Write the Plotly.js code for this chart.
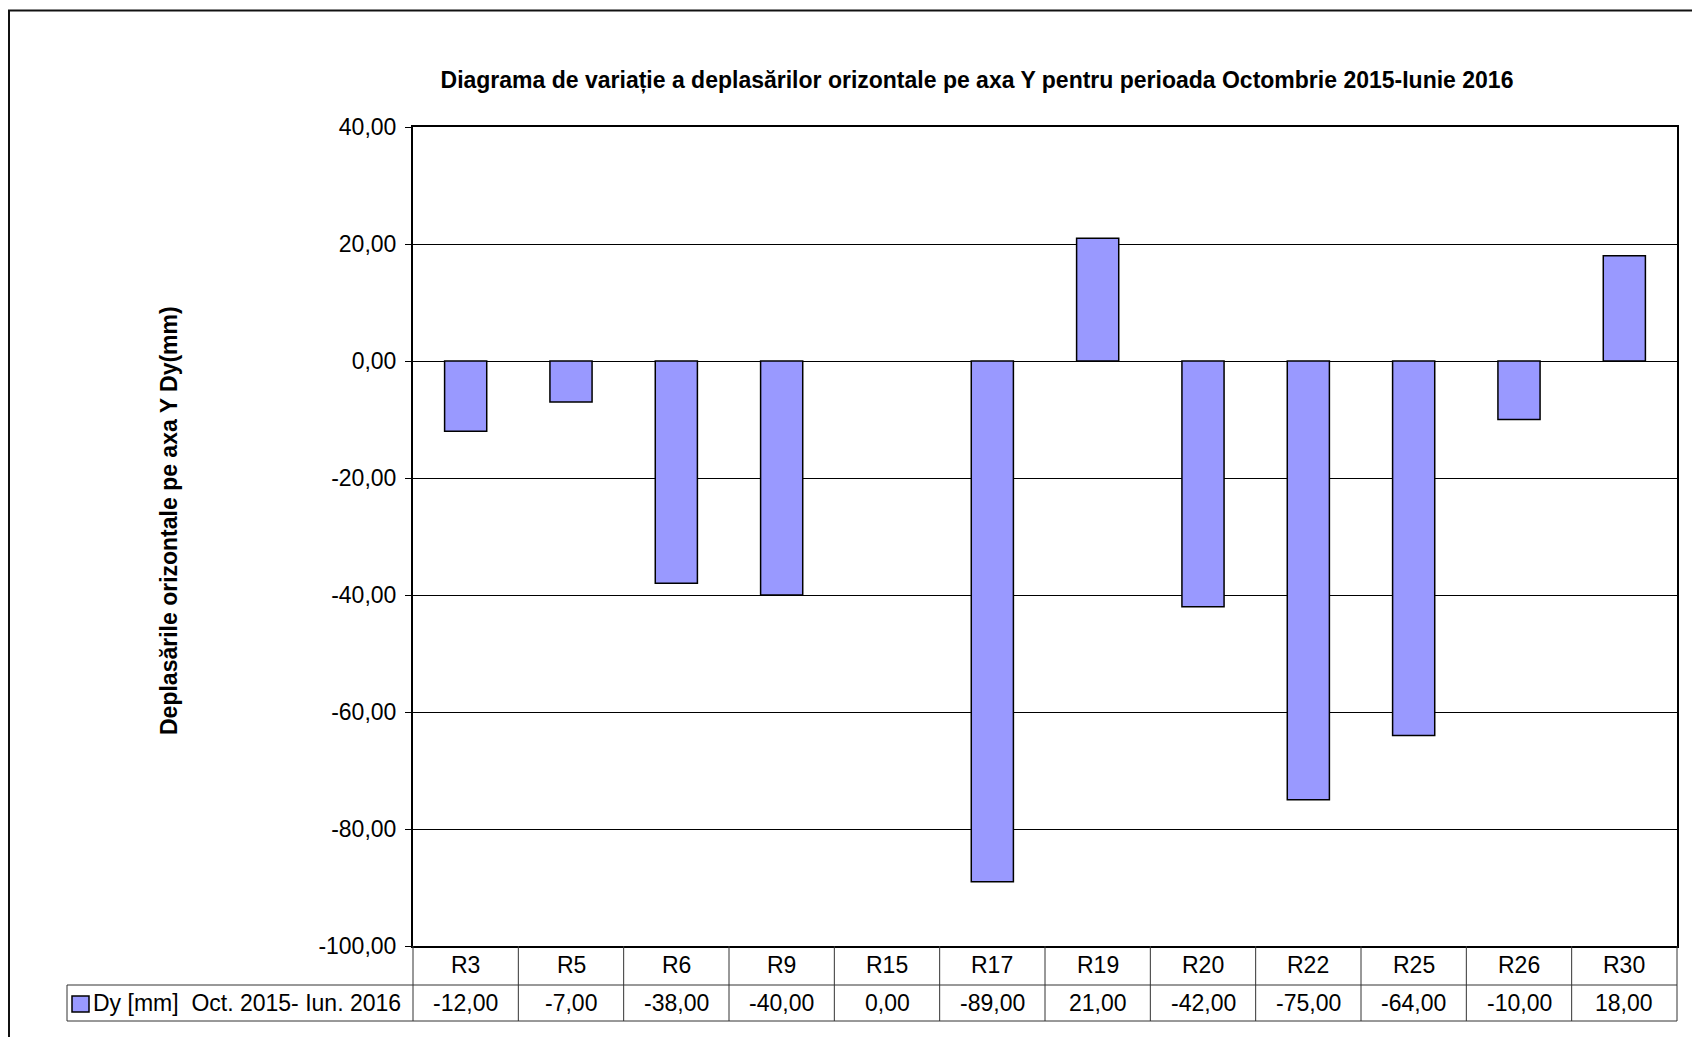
<!DOCTYPE html>
<html>
<head>
<meta charset="utf-8">
<script src="https://cdn.plot.ly/plotly-3.0.1.min.js"></script>
<style>
html,body{margin:0;padding:0;background:#fff;}
#chart{width:1692px;height:1037px;}
</style>
</head>
<body>
<div id="chart"></div>
<script>
// ---- data ----
const categories = ["R3","R5","R6","R9","R15","R17","R19","R20","R22","R25","R26","R30"];
const dyValues = [-12, -7, -38, -40, 0, -89, 21, -42, -75, -64, -10, 18];
const seriesName = "Dy [mm]  Oct. 2015- Iun. 2016";
const yTicks = [40, 20, 0, -20, -40, -60, -80, -100];
const chartTitle = "Diagrama de variație a deplasărilor orizontale pe axa Y pentru perioada Octombrie 2015-Iunie 2016";
const yTitle = "Deplasările orizontale pe axa Y Dy(mm)";

// ---- layout geometry (pixels) ----
const W = 1692, H = 1037;
const L = 413, R = 1677, T = 127, B = 946;
const ROW1 = 985, ROW2 = 1021, LEGL = 67;
const px = v => (v - L) / (R - L);
const py = v => (B - v) / (B - T);
const fmt = v => v.toFixed(2).replace('.', ',');
const FONT = "Liberation Sans, Arial, sans-serif";
const FS = 23;
const lineC = "#000";

const shapes = [];
const annotations = [];

// table horizontal lines
shapes.push({type:'line', xref:'paper', yref:'paper', x0:px(L), x1:px(R), y0:py(ROW1), y1:py(ROW1), line:{color:'#333', width:1}});
shapes.push({type:'line', xref:'paper', yref:'paper', x0:px(LEGL), x1:px(R), y0:py(ROW2), y1:py(ROW2), line:{color:'#333', width:1}});
shapes.push({type:'line', xref:'paper', yref:'paper', x0:px(LEGL), x1:px(L), y0:py(ROW1), y1:py(ROW1), line:{color:'#333', width:1}});
// table vertical lines
shapes.push({type:'line', xref:'paper', yref:'paper', x0:px(L), x1:px(L), y0:py(B), y1:py(ROW2), line:{color:'#333', width:1}});
shapes.push({type:'line', xref:'paper', yref:'paper', x0:px(R), x1:px(R), y0:py(B), y1:py(ROW2), line:{color:'#333', width:1}});
shapes.push({type:'line', xref:'paper', yref:'paper', x0:px(LEGL), x1:px(LEGL), y0:py(ROW1), y1:py(ROW2), line:{color:'#333', width:1}});
for (let i = 0; i < categories.length - 1; i++) {
  shapes.push({type:'line', xref:'x', yref:'paper', x0:i+0.5, x1:i+0.5, y0:py(B), y1:py(ROW2), line:{color:'#333', width:1}});
}
// legend key
shapes.push({type:'rect', xref:'paper', yref:'paper', x0:px(72), x1:px(89), y0:py(996), y1:py(1012), fillcolor:'#9999FF', line:{color:'#000', width:1.5}});
// outer frame (left + top)
shapes.push({type:'line', xref:'paper', yref:'paper', x0:px(9), x1:px(9), y0:py(10.5), y1:py(H), line:{color:'#111', width:2}});
shapes.push({type:'line', xref:'paper', yref:'paper', x0:px(8), x1:px(W), y0:py(10.5), y1:py(10.5), line:{color:'#111', width:2}});

// table texts
categories.forEach((c, i) => {
  annotations.push({xref:'x', yref:'paper', x:i, y:py((B+ROW1)/2), text:c, showarrow:false, xanchor:'center', yanchor:'middle', font:{family:FONT, size:FS, color:'#000'}});
  annotations.push({xref:'x', yref:'paper', x:i, y:py((ROW1+ROW2)/2), text:fmt(dyValues[i]), showarrow:false, xanchor:'center', yanchor:'middle', font:{family:FONT, size:FS, color:'#000'}});
});
annotations.push({xref:'paper', yref:'paper', x:px(91), y:py((ROW1+ROW2)/2), text:seriesName, showarrow:false, xanchor:'left', yanchor:'middle', font:{family:FONT, size:FS, color:'#000'}});
// y axis title
annotations.push({xref:'paper', yref:'paper', x:px(169), y:py(521), text:'<b>'+yTitle+'</b>', textangle:-90, showarrow:false, xanchor:'center', yanchor:'middle', font:{family:FONT, size:23, color:'#000'}});

const trace = {
  type:'bar',
  x: categories,
  y: dyValues,
  width: 0.4,
  marker:{color:'#9999FF', line:{color:'#000', width:dyValues.map(v => v === 0 ? 0 : 1.5)}},
  hoverinfo:'skip'
};

const layout = {
  width: W, height: H,
  margin:{l:L, r:W-R, t:T, b:H-B, pad:0},
  paper_bgcolor:'#fff', plot_bgcolor:'#fff',
  separators: ',.',
  showlegend:false,
  title:{text:'<b>'+chartTitle+'</b>', x:977/W, xanchor:'center', xref:'container', y:1-80/H, yanchor:'middle', yref:'container', font:{family:FONT, size:23, color:'#000'}},
  xaxis:{type:'category', range:[-0.5, categories.length-0.5], showticklabels:false, ticks:'', showgrid:false, zeroline:false, showline:true, mirror:true, linecolor:lineC, linewidth:2},
  yaxis:{range:[-100, 40], tickvals:yTicks, ticktext:yTicks.map(fmt), ticks:'outside', ticklen:6, tickcolor:'#000', tickwidth:1, showgrid:true, gridcolor:'#000', gridwidth:1, zeroline:false, showline:true, mirror:true, linecolor:lineC, linewidth:2, tickfont:{family:FONT, size:FS, color:'#000'}, ticklabelstandoff:4},
  shapes: shapes,
  annotations: annotations
};

Plotly.newPlot('chart', [trace], layout, {displayModeBar:false, staticPlot:true});
</script>
</body>
</html>
